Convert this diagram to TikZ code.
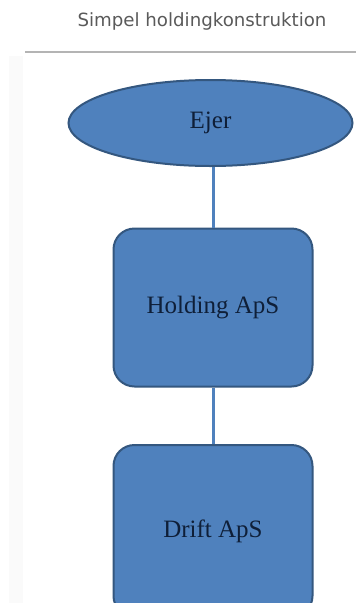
\documentclass[tikz,border=0pt]{standalone}
\usepackage{fontspec}
\setmainfont{Liberation Serif}
\newfontfamily\titlefont{DejaVu Sans}
\usetikzlibrary{positioning, shapes.geometric, calc}

\definecolor{boxfill}{HTML}{4F81BD}
\definecolor{boxline}{HTML}{34577F}
\definecolor{boxtext}{HTML}{0F1F38}
\definecolor{titlegray}{HTML}{5A5A5A}
\definecolor{rulegray}{HTML}{B4B4B4}
\definecolor{stripgray}{HTML}{FAFAFA}

\tikzset{
    entity/.style={draw=boxline, line width=2pt, fill=boxfill, text=boxtext,
        font=\fontsize{25}{28}\selectfont},
    ownerellipse/.style={entity, ellipse, minimum width=284pt, minimum height=86pt, inner sep=0pt},
    companybox/.style={entity, rectangle, rounded corners=21pt, minimum width=199pt, minimum height=158pt},
    ownerline/.style={draw=boxfill, line width=3pt}
}

\begin{document}
\begin{tikzpicture}[x=1pt, y=-1pt]
\useasboundingbox (0,0) rectangle (356,603);
\clip (0,0) rectangle (356,603);

% page background and heading
\fill[white] (0,0) rectangle (356,603);
\fill[stripgray] (9,56) rectangle (23,603);
\node[text=titlegray, font=\titlefont\fontsize{18.2}{20}\selectfont] (title) at (202,21) {Simpel holdingkonstruktion};
\draw[rulegray, line width=2pt] (25,52) -- (356,52);

% ownership chain
\node[ownerellipse] (ejer) at (210.5,123) {Ejer};
\node[companybox] (holding) at (213,307.5) {Holding ApS};
\node[companybox, minimum height=172pt] (drift) at (213,531) {Drift ApS};

\draw[ownerline] (holding.north |- ejer.south) -- (holding.north);
\draw[ownerline] (holding.south) -- (drift.north);

\end{tikzpicture}
\end{document}
